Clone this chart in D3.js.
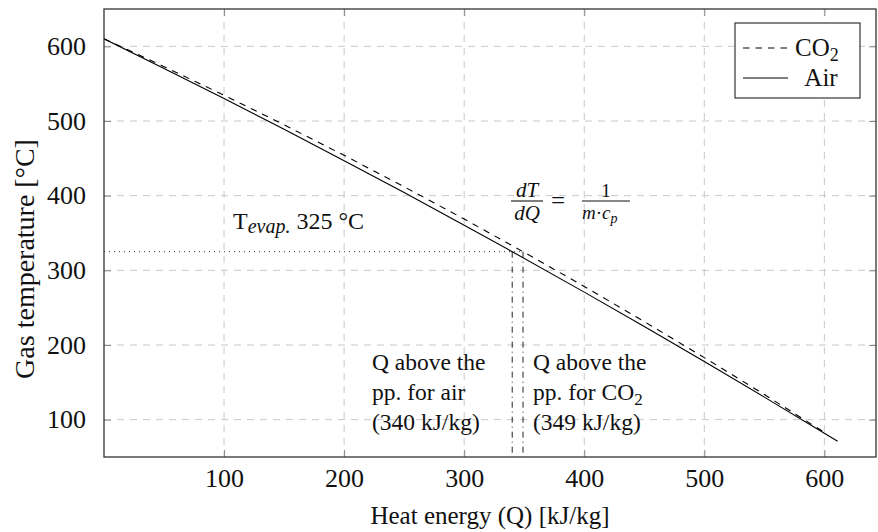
<!DOCTYPE html>
<html>
<head>
<meta charset="utf-8">
<script src="https://cdn.jsdelivr.net/npm/d3@7"></script>
<style>
  body { margin: 0; background: #fff; }
  svg text { font-family: "Liberation Serif", "DejaVu Serif", serif; fill: #111; }
</style>
</head>
<body>
<div id="chart"></div>
<script>
// values
const airQ  = [0, 50, 100, 150, 200, 250, 300, 340, 400, 450, 500, 550, 600, 611];
const airT  = [610, 570.4, 530.1, 488.9, 446.9, 404.1, 360.5, 325, 270.8, 224.8, 177.9, 130.2, 81.7, 71];
const co2Q  = [0, 50, 100, 150, 200, 250, 300, 349, 400, 450, 500, 550, 600];
const co2T  = [610, 572.8, 534.5, 494.9, 454.0, 411.9, 368.7, 325, 278.4, 231.3, 183.1, 133.7, 83];
const xTicks = [100, 200, 300, 400, 500, 600];
const yTicks = [100, 200, 300, 400, 500, 600];
const pinchQ = [340, 349];   // air, CO2
const evapT = 325;

const margin = {top: 9, right: 2, bottom: 75, left: 104};
const width = 878 - margin.left - margin.right;
const height = 532 - margin.top - margin.bottom;

const svg = d3.select("#chart")
    .append("svg")
    .attr("width", 878)
    .attr("height", 532);

const g = svg.append("g")
    .attr("transform", "translate(" + margin.left + "," + margin.top + ")");

const x = d3.scaleLinear().domain([0, 643]).range([0, width]);
const y = d3.scaleLinear().domain([50, 650]).range([height, 0]);

// grid
g.selectAll(".gx").data(xTicks).enter().append("line")
    .attr("x1", d => x(d)).attr("x2", d => x(d))
    .attr("y1", 0).attr("y2", height)
    .attr("stroke", "#c8c8c8").attr("stroke-dasharray", "7,6");
g.selectAll(".gy").data(yTicks).enter().append("line")
    .attr("y1", d => y(d)).attr("y2", d => y(d))
    .attr("x1", 0).attr("x2", width)
    .attr("stroke", "#c8c8c8").attr("stroke-dasharray", "7,6");

// axes (ticks inside, on all four sides)
const tickLen = 7;
g.append("g").attr("transform", "translate(0," + height + ")")
    .call(d3.axisBottom(x).tickValues(xTicks).tickSize(-tickLen).tickPadding(12));
g.append("g")
    .call(d3.axisTop(x).tickValues(xTicks).tickSize(-tickLen).tickFormat(""));
g.append("g")
    .call(d3.axisLeft(y).tickValues(yTicks).tickSize(-tickLen).tickPadding(18));
g.append("g").attr("transform", "translate(" + width + ",0)")
    .call(d3.axisRight(y).tickValues(yTicks).tickSize(-tickLen).tickFormat(""));

g.selectAll(".domain").remove();
g.selectAll(".tick line").attr("stroke", "#8a8a8a");
g.selectAll(".tick text").style("font-size", "26px").attr("fill", "#111")
    .style("font-family", "'Liberation Serif', serif");

// pinch-point guides
g.append("line")
    .attr("x1", x(0)).attr("x2", x(pinchQ[1]))
    .attr("y1", y(evapT)).attr("y2", y(evapT))
    .attr("stroke", "#333").attr("stroke-width", 1)
    .attr("stroke-dasharray", "1,4");
g.selectAll(".pinch").data(pinchQ).enter().append("line")
    .attr("x1", d => x(d)).attr("x2", d => x(d))
    .attr("y1", y(evapT)).attr("y2", height)
    .attr("stroke", "#222").attr("stroke-width", 1)
    .attr("stroke-dasharray", "6,4,1,4");

// curves
g.append("clipPath").attr("id", "clip").append("rect")
    .attr("width", width).attr("height", height);

const line = d3.line().x(d => x(d[0])).y(d => y(d[1]));

g.append("path")
    .datum(d3.zip(co2Q, co2T))
    .attr("clip-path", "url(#clip)")
    .attr("fill", "none").attr("stroke", "#000").attr("stroke-width", 1.1)
    .attr("stroke-dasharray", "6.5,6")
    .attr("d", line);

g.append("path")
    .datum(d3.zip(airQ, airT))
    .attr("clip-path", "url(#clip)")
    .attr("fill", "none").attr("stroke", "#000").attr("stroke-width", 1.1)
    .attr("d", line);

// frame
g.append("rect")
    .attr("width", width).attr("height", height)
    .attr("fill", "none").attr("stroke", "#333").attr("stroke-width", 1.3);

// annotations
const fs = "23.5px";
const tev = g.append("text")
    .attr("x", 129).attr("y", 220)
    .style("font-size", "24px");
tev.append("tspan").text("T");
tev.append("tspan").attr("dy", 4).style("font-style", "italic").style("font-size", "20px").text("evap.");
tev.append("tspan").attr("dy", -4).text(" 325 °C");

function block(x0, y0, lines) {
    lines.forEach((ln, i) => {
        const t = g.append("text").attr("x", x0).attr("y", y0 + i * 30)
            .style("font-size", fs);
        if (Array.isArray(ln)) {
            t.append("tspan").text(ln[0]);
            t.append("tspan").attr("dy", 5).style("font-size", "17px").text(ln[1]);
        } else {
            t.text(ln);
        }
    });
}
block(268, 361, ["Q above the", "pp. for air", "(340 kJ/kg)"]);
block(429, 361, ["Q above the", ["pp. for CO", "2"], "(349 kJ/kg)"]);

// dT/dQ = 1/(m·cp)
const fx = 407, fy = 192;
const fr = g.append("g").style("font-style", "italic");
fr.append("text").attr("x", fx + 16).attr("y", fy - 4).attr("text-anchor", "middle")
    .style("font-size", "21px").text("dT");
fr.append("line").attr("x1", fx).attr("x2", fx + 32).attr("y1", fy).attr("y2", fy)
    .attr("stroke", "#111").attr("stroke-width", 1.1);
fr.append("text").attr("x", fx + 16).attr("y", fy + 19).attr("text-anchor", "middle")
    .style("font-size", "21px").text("dQ");
g.append("text").attr("x", fx + 47).attr("y", fy + 8).attr("text-anchor", "middle")
    .style("font-size", "25px").text("=");
fr.append("text").attr("x", fx + 95).attr("y", fy - 4).attr("text-anchor", "middle")
    .style("font-size", "19px").style("font-style", "normal").text("1");
fr.append("line").attr("x1", fx + 71).attr("x2", fx + 119).attr("y1", fy).attr("y2", fy)
    .attr("stroke", "#111").attr("stroke-width", 1.1);
const den = fr.append("text").attr("x", fx + 71).attr("y", fy + 18).style("font-size", "19px");
den.append("tspan").text("m");
den.append("tspan").style("font-style", "normal").text("·");
den.append("tspan").text("c");
den.append("tspan").attr("dy", 4).style("font-size", "14px").text("p");

// legend
const lg = g.append("g").attr("transform", "translate(" + (width - 141) + ",14)");
lg.append("rect").attr("width", 125).attr("height", 75)
    .attr("fill", "#fff").attr("stroke", "#222").attr("stroke-width", 1.1);
lg.append("line").attr("x1", 8).attr("x2", 53).attr("y1", 25).attr("y2", 25)
    .attr("stroke", "#000").attr("stroke-width", 1.1).attr("stroke-dasharray", "6.5,6");
lg.append("line").attr("x1", 8).attr("x2", 53).attr("y1", 55).attr("y2", 55)
    .attr("stroke", "#000").attr("stroke-width", 1.1);
const l1 = lg.append("text").attr("x", 60).attr("y", 33).style("font-size", "25px");
l1.append("tspan").text("CO");
l1.append("tspan").attr("dy", 5).style("font-size", "18px").text("2");
lg.append("text").attr("x", 86).attr("y", 63).attr("text-anchor", "middle")
    .style("font-size", "25px").text("Air");

// axis titles
svg.append("text")
    .attr("x", margin.left + width / 2).attr("y", 524)
    .attr("text-anchor", "middle").style("font-size", "25px")
    .text("Heat energy (Q) [kJ/kg]");
svg.append("text")
    .attr("transform", "translate(34,259) rotate(-90)")
    .attr("text-anchor", "middle").style("font-size", "28px")
    .text("Gas temperature [°C]");
</script>
</body>
</html>
